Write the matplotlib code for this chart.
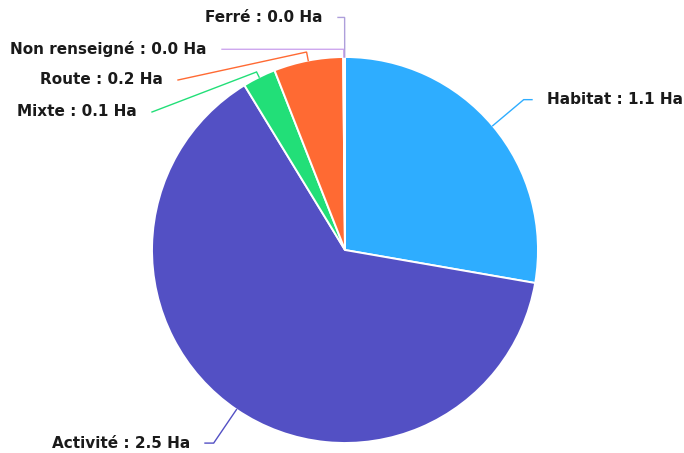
import matplotlib.pyplot as plt
import numpy as np

# --- data (Ha) ---
categories = ['Habitat', 'Activité', 'Mixte', 'Route', 'Non renseigné', 'Ferré']
surfaces = [1.1, 2.52, 0.11, 0.23, 0.004, 0.002]
colors = ['#2EADFF', '#5350C4', '#22DF78', '#FF6A33', '#CDA6EE', '#AE9FDB']

# --- layout (pixels of the 684x453 image) ---
CX, CY, R = 345, 250, 193
W, H = 684, 453
# elbow radius (in pie radii), label line end (px); None -> same y as the elbow
elbow_r = [1.21, 1.21, 1.03, 1.045, 1.04, 1.205]
line_end = [(532, None), (205, None), (152, 112), (178, 80), (222, None), (338, None)]
side = ['left', 'right', 'right', 'right', 'right', 'right']
GAP = 15


fig = plt.figure(figsize=(6.84, 4.53), dpi=100)
ax = fig.add_axes([0, 0, 1, 1])

ax.pie(surfaces, colors=colors, startangle=90, counterclock=False, radius=1,
       wedgeprops=dict(edgecolor='white', linewidth=1.4))

# pie() resets limits and aspect, so set them afterwards
ax.set_aspect('auto')
ax.set_xlim(-CX / R, (W - CX) / R)
ax.set_ylim((CY - H) / R, CY / R)
ax.axis('off')

# leader lines + labels
total = sum(surfaces)
start = 0.0
for i, (name, val) in enumerate(zip(categories, surfaces)):
    span = val / total * 360
    mid = np.radians(start + span / 2)  # clockwise from the top
    start += span
    p0 = (np.sin(mid), np.cos(mid))
    p1 = (elbow_r[i] * np.sin(mid), elbow_r[i] * np.cos(mid))
    ex, ey = line_end[i]
    x2 = (ex - CX) / R
    y2 = p1[1] if ey is None else (CY - ey) / R
    ax.plot([p0[0], p1[0], x2], [p0[1], p1[1], y2], color=colors[i], lw=1.0,
            solid_joinstyle='miter')
    tx = x2 + GAP / R if side[i] == 'left' else x2 - GAP / R
    ax.text(tx, y2, f"{name} : {val:.1f} Ha", ha=side[i], va='center',
            fontsize=11, fontweight='bold', color='#1a1a1a')

fig.savefig('out.png', dpi=100)
